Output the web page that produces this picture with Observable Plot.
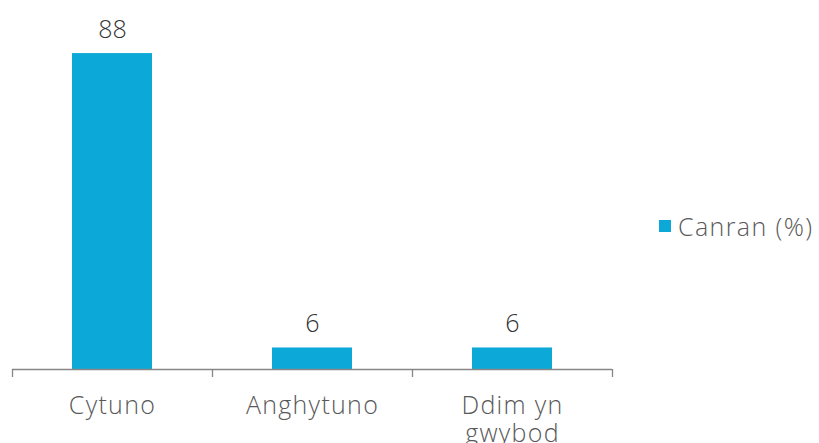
<!DOCTYPE html>
<html>
<head>
<meta charset="utf-8">
<script src="https://cdn.jsdelivr.net/npm/d3@7"></script>
<script src="https://cdn.jsdelivr.net/npm/@observablehq/plot@0.6"></script>
<style>
  html, body { margin: 0; padding: 0; background: #fff; }
  #wrap { position: relative; width: 819px; height: 443px; overflow: hidden; }
  #legend { position: absolute; left: 659px; top: 209px; font-family: "Open Sans", sans-serif; font-weight: 300; font-size: 25px; color: #595959; display: flex; align-items: center; white-space: nowrap; letter-spacing: 1.4px; }
  #legend .sw { width: 12px; height: 12px; background: #0ba8d8; margin-right: 7px; }
  #wrap svg g.catlabels text { letter-spacing: 1.3px; }
</style>
</head>
<body>
<div id="wrap"><div id="legend"><span class="sw"></span><span>Canran (%)</span></div></div>
<script>
const categories = ["Cytuno", "Anghytuno", "Ddim yn gwybod"];
const tickLabels = ["Cytuno", "Anghytuno", "Ddim yn\ngwybod"];
const values = [88, 6, 6];
const seriesName = "Canran (%)";

const data = categories.map((c, i) => ({category: c, label: tickLabels[i], value: values[i], i}));
const barColor = "#0ba8d8";

const chart = Plot.plot({
  width: 819,
  height: 443,
  marginLeft: 12,
  marginRight: 207,
  marginTop: 10,
  marginBottom: 74,
  style: {fontFamily: "'Open Sans', sans-serif", background: "transparent", overflow: "visible"},
  x: {domain: [0, categories.length], axis: null},
  y: {domain: [0, 100], axis: null},
  marks: [
    Plot.rectY(data, {x1: d => d.i + 0.3, x2: d => d.i + 0.7, y1: 0, y2: "value", fill: barColor}),
    Plot.ruleY([0], {stroke: "#868686", strokeWidth: 1.3}),
    Plot.axisX({ticks: d3.range(categories.length + 1), tickFormat: () => "", tickSize: 8, stroke: "#868686", strokeWidth: 1.3}),
    Plot.text(data, {x: d => d.i + 0.5, y: "value", text: d => String(d.value), dy: -16, lineAnchor: "bottom", fontSize: 25, fontWeight: 300, fill: "#333333"}),
    Plot.text(data, {x: d => d.i + 0.5, y: 0, text: "label", dy: 25, lineAnchor: "top", lineHeight: 1.12, fontSize: 25, fontWeight: 300, fill: "#595959", className: "catlabels"})
  ]
});
document.getElementById("wrap").prepend(chart);
</script>
</body>
</html>
